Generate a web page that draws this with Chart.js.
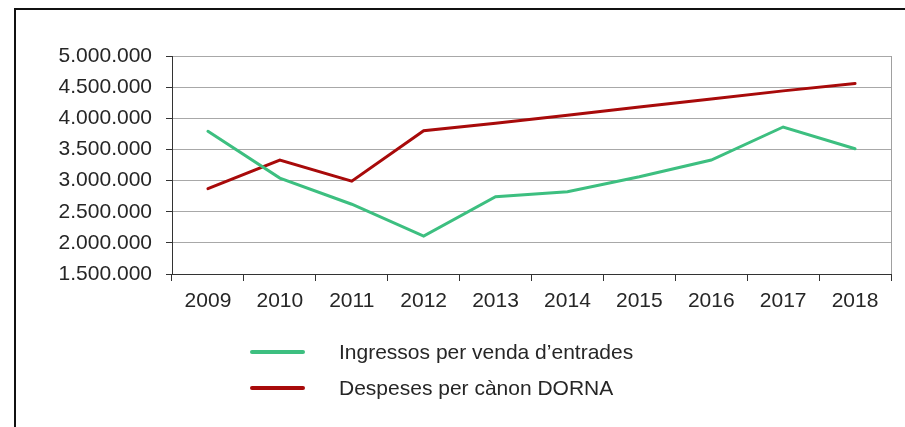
<!DOCTYPE html>
<html lang="en">
<head>
    <meta charset="UTF-8">
    <title>Ingressos i despeses</title>
    <script src="https://cdn.jsdelivr.net/npm/chart.js"></script>
    <style>
        body {
            margin: 0;
            padding: 0;
            background: #fff;
            font-family: "Liberation Sans", Arial, sans-serif;
        }

        .wrap {
            position: relative;
            width: 905px;
            height: 427px;
            overflow: hidden;
        }

        .frame {
            position: absolute;
            left: 14px;
            top: 8px;
            width: 1000px;
            height: 600px;
            border: 2px solid #111;
            box-sizing: border-box;
        }

        canvas {
            position: absolute;
            left: 0;
            top: 0;
        }

        .legend {
            position: absolute;
            left: 250px;
            top: 334px;
        }

        .legend-item {
            display: flex;
            align-items: center;
            height: 36px;
            font-size: 21px;
            color: #262626;
        }

        .legend-item span.line {
            display: inline-block;
            width: 55px;
            height: 4px;
            border-radius: 2px;
            margin-right: 34px;
        }
    </style>
</head>
<body>
    <div class="wrap">
        <div class="frame"></div>
        <canvas id="chart" width="905" height="427"></canvas>
        <div class="legend" id="legend"></div>
    </div>

    <script>
        // data
        const years = ["2009", "2010", "2011", "2012", "2013", "2014", "2015", "2016", "2017", "2018"];
        const ingressos = [3790000, 3040000, 2620000, 2110000, 2740000, 2820000, 3060000, 3330000, 3860000, 3510000];
        const despeses = [2870000, 3330000, 2990000, 3800000, 3920000, 4050000, 4180000, 4310000, 4440000, 4560000];
        const labelIngressos = "Ingressos per venda d\u2019entrades";
        const labelDespeses = "Despeses per c\u00e0non DORNA";

        const green = "#3dbf80";
        const red = "#a80a0a";

        // thin gray line closing the plot on the right
        const rightBorder = {
            id: "rightBorder",
            afterDraw(chart) {
                const ctx = chart.ctx;
                const a = chart.chartArea;
                ctx.save();
                ctx.strokeStyle = "#a0a0a0";
                ctx.lineWidth = 1;
                ctx.beginPath();
                ctx.moveTo(Math.round(a.right) + 0.5, a.top);
                ctx.lineTo(Math.round(a.right) + 0.5, a.bottom);
                ctx.stroke();
                ctx.restore();
            }
        };

        const chart = new Chart(document.getElementById("chart"), {
            type: "line",
            data: {
                labels: years,
                datasets: [
                    {
                        label: labelIngressos,
                        data: ingressos,
                        borderColor: green,
                        backgroundColor: green,
                        borderWidth: 3,
                        borderCapStyle: "round",
                        pointRadius: 0,
                        tension: 0
                    },
                    {
                        label: labelDespeses,
                        data: despeses,
                        borderColor: red,
                        backgroundColor: red,
                        borderWidth: 3,
                        borderCapStyle: "round",
                        pointRadius: 0,
                        tension: 0
                    }
                ]
            },
            options: {
                responsive: false,
                animation: false,
                layout: { padding: { top: 56, right: 14, left: 0, bottom: 0 } },
                plugins: {
                    legend: { display: false },
                    tooltip: { enabled: false }
                },
                scales: {
                    x: {
                        offset: true,
                        grid: {
                            offset: true,
                            drawOnChartArea: false,
                            tickLength: 7,
                            tickColor: "#333"
                        },
                        border: { color: "#333", width: 1 },
                        ticks: {
                            color: "#262626",
                            padding: 8,
                            maxRotation: 0,
                            font: { family: "Liberation Sans", size: 21 }
                        },
                        afterFit(scale) { scale.height = 153; }
                    },
                    y: {
                        min: 1500000,
                        max: 5000000,
                        grid: {
                            color: "#a8a8a8",
                            tickColor: "#333",
                            tickLength: 6
                        },
                        border: { color: "#333", width: 1 },
                        ticks: {
                            stepSize: 500000,
                            color: "#262626",
                            padding: 14,
                            font: { family: "Liberation Sans", size: 21 },
                            callback: v => String(v).replace(/\B(?=(\d{3})+(?!\d))/g, ".")
                        },
                        afterFit(scale) { scale.width = 172; }
                    }
                }
            },
            plugins: [rightBorder]
        });

        // legend stacked below the chart, built from the datasets
        const legend = document.getElementById("legend");
        chart.data.datasets.forEach(ds => {
            const item = document.createElement("div");
            item.className = "legend-item";
            item.innerHTML = '<span class="line" style="background:' + ds.borderColor + '"></span>' + ds.label;
            legend.appendChild(item);
        });
    </script>
</body>
</html>
